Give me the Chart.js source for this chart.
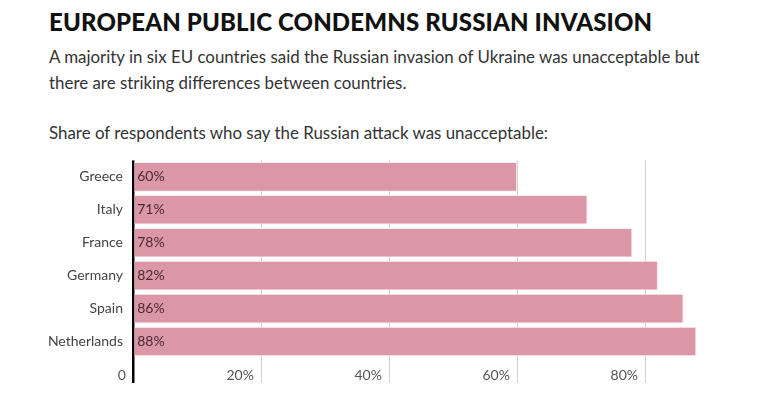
<!DOCTYPE html>
<html>
<head>
<meta charset="utf-8">
<script src="https://cdn.jsdelivr.net/npm/chart.js@4"></script>
<style>
  html, body { margin: 0; padding: 0; background: #fff; }
  body { width: 758px; height: 397px; position: relative; overflow: hidden; font-family: Lato, "Open Sans", sans-serif; }
  h1 { position: absolute; left: 49px; top: 7px; margin: 0; font-size: 24px; font-weight: 900; color: #111; letter-spacing: 0.15px; }
  .sub { position: absolute; left: 49px; top: 44px; width: 690px; margin: 0; font-size: 16.9px; line-height: 26px; color: #333; }
  .lead { position: absolute; left: 49px; top: 122px; margin: 0; font-size: 16.9px; color: #333; }
  #wrap { position: absolute; left: 0; top: 150px; width: 758px; height: 247px; }
</style>
</head>
<body>
<h1>EUROPEAN PUBLIC CONDEMNS RUSSIAN INVASION</h1>
<p class="sub">A majority in six EU countries said the Russian invasion of Ukraine was unacceptable but there are striking differences between countries.</p>
<p class="lead">Share of respondents who say the Russian attack was unacceptable:</p>
<div id="wrap"><canvas id="myChart"></canvas></div>
<script>
var countries = ["Greece", "Italy", "France", "Germany", "Spain", "Netherlands"];
var shareUnacceptable = [60, 71, 78, 82, 86, 88];
var tickValues = [0, 20, 40, 60, 80];

var barColor = "#dc97a7";
var fontFamily = "Lato, 'Open Sans', sans-serif";

// value labels at the start of each bar
var valueLabels = {
  id: "valueLabels",
  afterDatasetsDraw(chart) {
    var ctx = chart.ctx;
    var meta = chart.getDatasetMeta(0);
    ctx.save();
    ctx.font = "14px " + fontFamily;
    ctx.fillStyle = "#4a2a33";
    ctx.textAlign = "left";
    ctx.textBaseline = "middle";
    meta.data.forEach((bar, i) => {
      ctx.fillText(shareUnacceptable[i] + "%", bar.base + 3, bar.y);
    });
    ctx.restore();
  },
};

const ctx_chart = document.getElementById("myChart");

var myChart = new Chart(ctx_chart, {
  type: "bar",
  data: {
    labels: countries,
    datasets: [
      {
        data: shareUnacceptable,
        backgroundColor: barColor,
        borderColor: "rgba(255,235,240,0.9)",
        borderWidth: 1,
        barPercentage: 0.9,
        categoryPercentage: 1,
      },
    ],
  },
  options: {
    indexAxis: "y",
    responsive: true,
    maintainAspectRatio: false,
    animation: false,
    layout: { padding: { top: 8, right: 4, bottom: 0, left: 0 } },
    plugins: {
      legend: { display: false },
      tooltip: { enabled: false },
    },
    scales: {
      x: {
        min: 0,
        max: 97,
        afterBuildTicks(scale) {
          scale.ticks = tickValues.map((v) => ({ value: v }));
        },
        afterFit(scale) {
          scale.height = 39;
        },
        border: { display: false },
        grid: {
          drawOnChartArea: true,
          drawTicks: true,
          tickLength: 25,
          color: (c) => (c.tick && c.tick.value === 0 ? "#000" : "#d2d2d2"),
          lineWidth: (c) => (c.tick && c.tick.value === 0 ? 2.5 : 1),
        },
        ticks: {
          align: "end",
          padding: -16,
          autoSkip: false,
          maxRotation: 0,
          color: "#555",
          font: { family: fontFamily, size: 14 },
          callback: (v) => (v === 0 ? "0  " : v + "%  "),
        },
      },
      y: {
        afterFit(scale) {
          scale.width = 133;
        },
        border: { display: false },
        grid: { display: false },
        ticks: {
          color: "#444",
          padding: 2,
          font: { family: fontFamily, size: 14 },
        },
      },
    },
  },
  plugins: [valueLabels],
});
</script>
</body>
</html>
